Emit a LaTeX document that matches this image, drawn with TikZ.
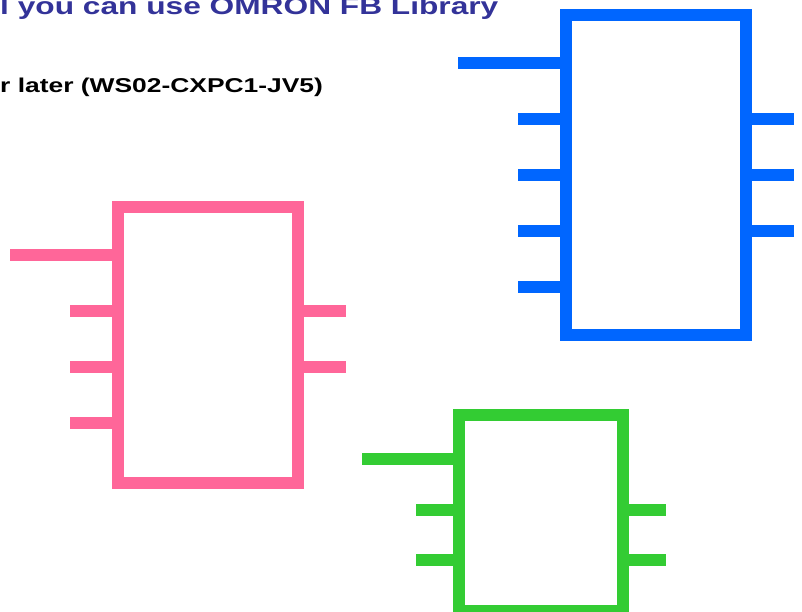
\documentclass[tikz,border=0pt]{standalone}
\usepackage{fontspec}
\setmainfont{Liberation Sans}
\usetikzlibrary{positioning}
\definecolor{fbpink}{HTML}{FF6699}
\definecolor{fbblue}{HTML}{0066FF}
\definecolor{fbgreen}{HTML}{33CC33}
\definecolor{titleblue}{HTML}{333399}

\begin{document}
\begin{tikzpicture}[x=1pt,y=-1pt,
  fb/.style={draw,line width=12pt,outer sep=0pt,inner sep=0pt},
  pin/.style={line width=12pt},
  caption/.style={anchor=base west,inner sep=0pt}]
  \useasboundingbox (0,0) rectangle (802,611);
  \node[caption,text=titleblue,font=\bfseries\fontsize{24}{28}\selectfont] (title) at (0,14)
    {\scalebox{1.32}[1]{l you can use OMRON FB Library}};
  \node[caption,font=\bfseries\fontsize{20}{24}\selectfont] (version) at (0,92)
    {\scalebox{1.32}[1]{r later (WS02-CXPC1-JV5)}};
  % function blocks
  \node[fb,draw=fbpink,minimum width=180pt,minimum height=276pt] (pinkfb) at (208,345.3) {};
  \node[fb,draw=fbblue,minimum width=180pt,minimum height=320pt] (bluefb) at (656,175.3) {};
  \node[fb,draw=fbgreen,minimum width=163.4pt,minimum height=195.7pt] (greenfb) at (541,513.15) {};
  % pins
  \draw[pin,fbpink] (pinkfb.north west) ++(0,48) -- ++(-108,0);
  \foreach \dy in {104,160,216}
    \draw[pin,fbpink] (pinkfb.north west) ++(0,\dy) -- ++(-48,0);
  \foreach \dy in {104,160}
    \draw[pin,fbpink] (pinkfb.north east) ++(0,\dy) -- ++(48,0);
  \draw[pin,fbblue] (bluefb.north west) ++(0,48) -- ++(-108,0);
  \foreach \dy in {104,160,216,272}
    \draw[pin,fbblue] (bluefb.north west) ++(0,\dy) -- ++(-48,0);
  \foreach \dy in {104,160,216}
    \draw[pin,fbblue] (bluefb.north east) ++(0,\dy) -- ++(48,0);
  \draw[pin,fbgreen] (greenfb.north west) ++(0,43.4) -- ++(-97.3,0);
  \foreach \dy in {94.4,145}
    \draw[pin,fbgreen] (greenfb.north west) ++(0,\dy) -- ++(-43.3,0);
  \foreach \dy in {94.4,145}
    \draw[pin,fbgreen] (greenfb.north east) ++(0,\dy) -- ++(43.3,0);
\end{tikzpicture}
\end{document}
